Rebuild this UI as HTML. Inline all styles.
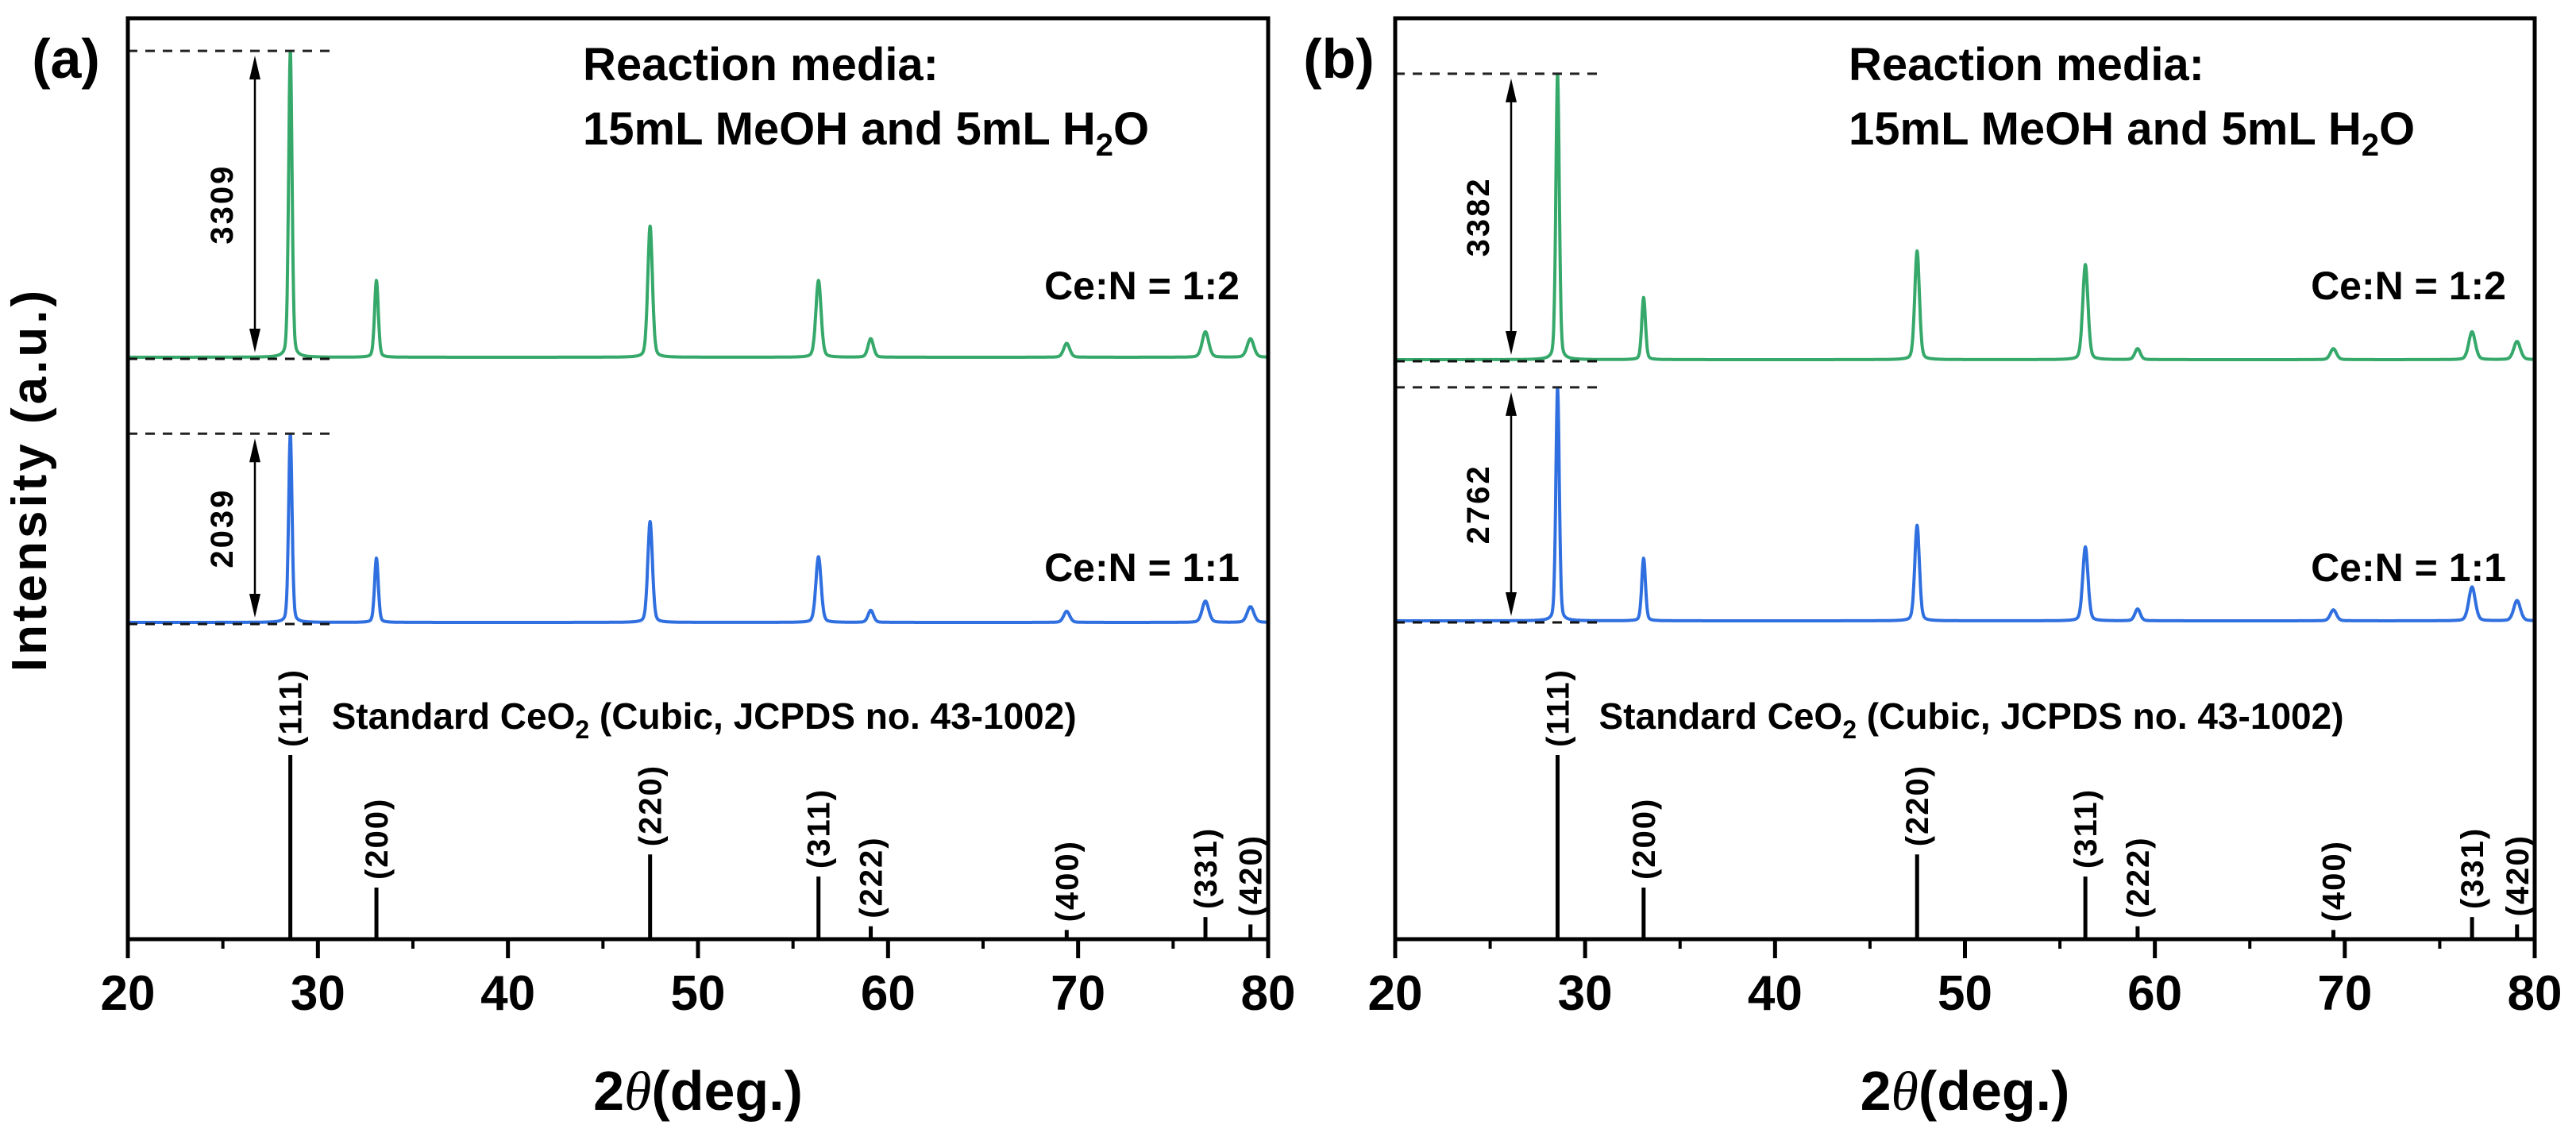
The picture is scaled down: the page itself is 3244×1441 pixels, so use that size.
<!DOCTYPE html>
<html><head><meta charset="utf-8"><style>
html,body{margin:0;padding:0;background:#fff;}
svg{display:block;font-family:"Liberation Sans",Arial,sans-serif;font-weight:bold;}
</style></head><body>
<svg id="fig" width="3244" height="1441" viewBox="0 0 3244 1441" xmlns="http://www.w3.org/2000/svg"></svg>
<script>
// ---- data ----
const peakPos = [28.55, 33.08, 47.48, 56.34, 59.09, 69.40, 76.70, 79.07];
const hklLabels = ["(111)","(200)","(220)","(311)","(222)","(400)","(331)","(420)"];
const stdIntensity = [100, 28, 46, 34, 7, 5, 12, 8];
const aGreen = [3309, 830, 1417, 830, 200, 150, 275, 200];
const aBlue  = [2039, 695, 1090, 710, 130, 120, 230, 170];
const bGreen = [3382, 735, 1285, 1125, 130, 130, 330, 215];
const bBlue  = [2762, 740, 1130, 875, 140, 130, 400, 240];
const xTicks = [20, 30, 40, 50, 60, 70, 80];
const minorTicks = [25, 35, 45, 55, 65, 75];

const NS = "http://www.w3.org/2000/svg";
const svg = document.getElementById("fig");
function mk(tag, attrs, parent) {
  const e = document.createElementNS(NS, tag);
  for (const k in attrs) e.setAttribute(k, attrs[k]);
  (parent || svg).appendChild(e);
  return e;
}

const panels = [
  {id:"a", left:161, right:1597, green:aGreen, blue:aBlue, gBase:450, bBase:784, scale:0.1166,
   arrowX:321, dashEnd:420, labelX:83, textX:734},
  {id:"b", left:1757, right:3192, green:bGreen, blue:bBlue, gBase:453, bBase:782, scale:0.1065,
   arrowX:1903, dashEnd:2013, labelX:1686, textX:2328}
];
const plotTop = 23, plotBottom = 1183;

panels.forEach(p => {
  const g = mk("g", {});
  
  
  const xs = v => p.left + (v - 20) / 60 * (p.right - p.left);

  function trace(vals, base, color, name) {
    let d = "";
    for (let x = 20; x <= 80.0001; x += 0.02) {
      let y = 0;
      for (let i = 0; i < peakPos.length; i++) {
        const w = 0.09 + 0.002 * (peakPos[i] - 20);
        const dx = (x - peakPos[i]) / w;
        y += vals[i] * (0.75 * Math.exp(-dx * dx * 0.693) + 0.25 / (1 + dx * dx));
      }
      const px = xs(x), py = base - y * p.scale;
      d += (d ? "L" : "M") + px.toFixed(1) + "," + py.toFixed(1);
    }
    const path = mk("path", {d:d, fill:"none", stroke:color, "stroke-width":4, "stroke-linejoin":"round"}, g);
    
    
  }
  trace(p.green, p.gBase, "#35a86a", "trace-ce-n-1-2");
  trace(p.blue, p.bBase, "#2f6fdf", "trace-ce-n-1-1");

  [[p.green, p.gBase, "max-annotation-green"], [p.blue, p.bBase, "max-annotation-blue"]].forEach(([vals, base, name]) => {
    const topY = base - vals[0] * p.scale;
    const ag = mk("g", {}, g);
    
    
    mk("line", {x1:p.left, x2:p.dashEnd, y1:topY, y2:topY, stroke:"#222", "stroke-width":3, "stroke-dasharray":"12,10"}, ag);
    mk("line", {x1:p.left, x2:p.dashEnd, y1:base + 2, y2:base + 2, stroke:"#111", "stroke-width":3, "stroke-dasharray":"12,10"}, ag);
    mk("line", {x1:p.arrowX, x2:p.arrowX, y1:topY + 20, y2:base - 20, stroke:"#000", "stroke-width":2.5}, ag);
    mk("path", {d:`M${p.arrowX},${topY + 6} l-7,30 l14,0 z`, fill:"#000"}, ag);
    mk("path", {d:`M${p.arrowX},${base - 6} l-7,-30 l14,0 z`, fill:"#000"}, ag);
    const cy = (topY + base) / 2;
    const t = mk("text", {x:p.arrowX - 28, y:cy, "font-size":40, "text-anchor":"middle", transform:`rotate(-90 ${p.arrowX - 28} ${cy})`, "letter-spacing":"3"}, ag);
    t.textContent = vals[0];
  });

  peakPos.forEach((pos, i) => {
    const h = stdIntensity[i] / 100 * 232;
    const st = mk("line", {x1:xs(pos), x2:xs(pos), y1:plotBottom, y2:plotBottom - h, stroke:"#000", "stroke-width":5}, g);
    
    
    const lx = xs(pos) + 14, ly = plotBottom - h - 10;
    const lt = mk("text", {x:lx, y:ly, "font-size":40, transform:`rotate(-90 ${lx} ${ly})`, "letter-spacing":"2"}, g);
    
    
    lt.textContent = hklLabels[i];
  });

  const fr = mk("rect", {x:p.left, y:plotTop, width:p.right - p.left, height:plotBottom - plotTop, fill:"none", stroke:"#000", "stroke-width":5}, g);
  
  

  xTicks.forEach(v => {
    mk("line", {x1:xs(v), x2:xs(v), y1:plotBottom, y2:plotBottom + 24, stroke:"#000", "stroke-width":5}, g);
    const tl = mk("text", {x:xs(v), y:1272, "font-size":62, "text-anchor":"middle"}, g);
    
    
    tl.textContent = v;
  });
  minorTicks.forEach(v => mk("line", {x1:xs(v), x2:xs(v), y1:plotBottom, y2:plotBottom + 12, stroke:"#000", "stroke-width":4}, g));

  const xt = mk("text", {x:(p.left + p.right) / 2, y:1398, "font-size":70, "text-anchor":"middle"}, g);
  
  
  xt.innerHTML = '2<tspan font-family="Liberation Serif, serif" font-style="italic" font-weight="normal">θ</tspan>(deg.)';

  const pl = mk("text", {x:p.labelX, y:98, "font-size":70, "text-anchor":"middle"}, g);
  
  
  pl.textContent = "(" + p.id + ")";

  const r1 = mk("text", {x:p.textX, y:101, "font-size":58}, g);
  
  
  r1.textContent = "Reaction media:";
  const r2 = mk("text", {x:p.textX, y:182, "font-size":58}, g);
  
  
  r2.innerHTML = '15mL MeOH and 5mL H<tspan font-size="40" dy="14">2</tspan><tspan dy="-14">O</tspan>';

  const c1 = mk("text", {x:p.right - 36, y:377, "font-size":50, "text-anchor":"end"}, g);
  
  
  c1.textContent = "Ce:N = 1:2";
  const c2 = mk("text", {x:p.right - 36, y:732, "font-size":50, "text-anchor":"end"}, g);
  
  
  c2.textContent = "Ce:N = 1:1";

  const sx = xs(28.55) + 52;
  const s = mk("text", {x:sx, y:918, "font-size":46}, g);
  
  
  s.innerHTML = 'Standard CeO<tspan font-size="32" dy="12">2</tspan><tspan dy="-12"> (Cubic, JCPDS no. 43-1002)</tspan>';
});

const yt = mk("text", {x:58, y:604, "font-size":62, "text-anchor":"middle", transform:"rotate(-90 58 604)", "letter-spacing":"4"});


yt.textContent = "Intensity (a.u.)";
</script>
</body></html>
